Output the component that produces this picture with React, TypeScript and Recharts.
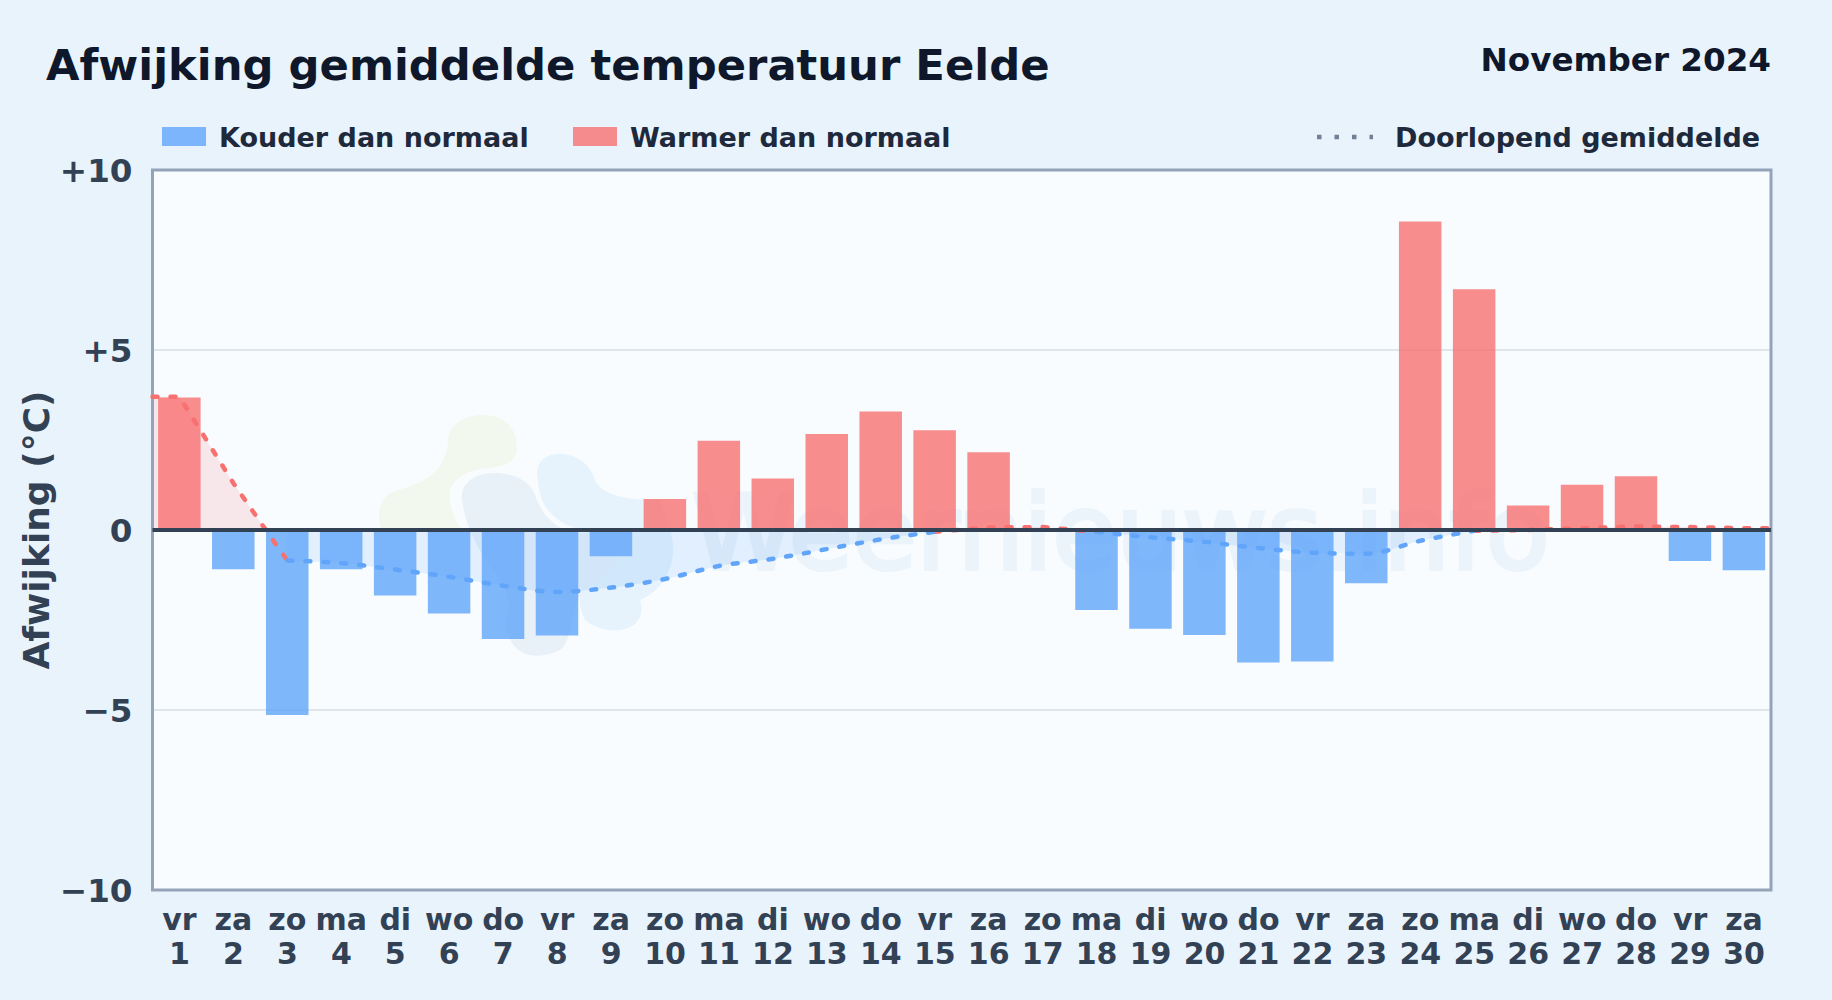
import {
  Area,
  Bar,
  CartesianGrid,
  ComposedChart,
  Line,
  Rectangle,
  ReferenceArea,
  ReferenceLine,
  XAxis,
  YAxis,
} from "recharts";

const FONT = "'DejaVu Sans', sans-serif";
const BLUE = "#60a5fa";
const RED = "#f87171";
const BAR_WIDTH = 42.5;

const days = Array.from({ length: 30 }, (_, i) => i + 1);
const weekdays = [
  "vr", "za", "zo", "ma", "di", "wo", "do", "vr", "za", "zo",
  "ma", "di", "wo", "do", "vr", "za", "zo", "ma", "di", "wo",
  "do", "vr", "za", "zo", "ma", "di", "wo", "do", "vr", "za",
];
const deviation = [
  3.68, -1.09, -5.14, -1.09, -1.82, -2.32, -3.03, -2.93, -0.73, 0.86,
  2.48, 1.43, 2.67, 3.29, 2.77, 2.16, 0, -2.22, -2.74, -2.92,
  -3.68, -3.65, -1.48, 8.57, 6.69, 0.68, 1.26, 1.49, -0.86, -1.12,
];
// running mean, split by colour of the segment that starts at that day
const warmMean = [
  3.7, 1.3, -0.85, null, null, null, null, null, null, null,
  null, null, null, null, -0.05, 0.07, 0.08, -0.05, null, null,
  null, null, null, null, -0.02, 0, 0.05, 0.1, 0.08, 0.05,
];
const coldMean = [
  null, null, -0.85, -0.92, -1.1, -1.3, -1.55, -1.72, -1.6, -1.36,
  -1.0, -0.8, -0.53, -0.26, -0.05, null, null, -0.05, -0.2, -0.33,
  -0.5, -0.63, -0.66, -0.3, -0.02, null, null, null, null, null,
];
const yTicks = [-10, -5, 0, 5, 10];

const rows = [
  { day: 0.5, warmMean: 3.7, warmFill: 3.7 },
  ...days.flatMap((day, i) => {
    const warm = warmMean[i];
    const row = {
      day,
      deviation: deviation[i],
      warmMean: warm,
      coldMean: coldMean[i],
      warmFill: warm !== null && warm >= 0 ? warm : null,
      coldFill: coldMean[i],
    };
    // line crosses zero between day 2 and 3
    if (day === 2) return [row, { day: 2.6, warmMean: 0, warmFill: 0 }];
    return [row];
  }),
  { day: 30.5, warmMean: 0.05, warmFill: 0.05 },
];

const formatY = (v: number) => (v > 0 ? `+${v}` : v < 0 ? `\u2212${Math.abs(v)}` : "0");

const DayTick = ({ x, y, payload }: any) => (
  <text x={x} textAnchor="middle" fontFamily={FONT} fontWeight="bold" fontSize={30} fill="#334155">
    <tspan x={x} y={y + 32}>{weekdays[payload.value - 1]}</tspan>
    <tspan x={x} y={y + 65.5}>{payload.value}</tspan>
  </text>
);

// the number axis squeezes bars to the closest rows, so the width is set here
const DayBar = (props: any) => (
  <Rectangle
    {...props}
    x={props.x + props.width / 2 - BAR_WIDTH / 2}
    width={BAR_WIDTH}
    fill={props.payload.deviation >= 0 ? RED : BLUE}
    fillOpacity={0.8}
  />
);

const Watermark = () => (
  <g>
    <path
      d="M448 440 C450 410 505 405 515 435 C522 460 510 465 490 468 C465 470 450 480 450 495 C450 510 455 520 462 530 L381 530 C376 510 380 495 398 490 C425 483 447 470 448 440 Z"
      fill="#f3f8ef"
    />
    <path
      d="M538 480 C530 445 585 445 595 480 C602 495 625 500 660 500 L670 530 C680 560 665 590 640 600 C650 630 610 640 585 620 C570 590 590 570 610 540 C590 530 540 530 538 480 Z"
      fill="#e6f3fd"
    />
    <path
      d="M462 500 C458 465 525 465 535 495 C545 525 570 540 600 530 C630 535 625 570 590 585 C570 595 575 640 560 650 C530 665 500 650 508 610 C515 580 470 560 462 500 Z"
      fill="#e8f0f8"
    />
    <text
      x={692}
      y={569}
      fontFamily={FONT}
      fontSize={104}
      fill="#ebf3fb"
      stroke="#ebf3fb"
      strokeWidth={4}
    >
      Weernieuws.info
    </text>
  </g>
);

const textStyle = (left: number, top: number, size: number, color: string): React.CSSProperties => ({
  position: "absolute",
  left,
  top,
  fontFamily: FONT,
  fontWeight: "bold",
  fontSize: size,
  color,
  lineHeight: 1,
  whiteSpace: "nowrap",
});

const Swatch = ({ left, color }: { left: number; color: string }) => (
  <div style={{ position: "absolute", left, top: 127, width: 44, height: 19, background: color, opacity: 0.8 }} />
);

export default function App() {
  return (
    <div
      style={{
        position: "absolute",
        left: 0,
        top: 0,
        width: 1832,
        height: 1000,
        overflow: "hidden",
        background: "#e8f3fc",
      }}
    >
      <div style={textStyle(46, 44, 43.3, "#0f172a")}>Afwijking gemiddelde temperatuur Eelde</div>
      <div style={{ ...textStyle(0, 44, 32.6, "#0f172a"), left: "auto", right: 61 }}>November 2024</div>

      <Swatch left={162} color={BLUE} />
      <div style={textStyle(219, 124, 27, "#1e293b")}>Kouder dan normaal</div>
      <Swatch left={573} color={RED} />
      <div style={textStyle(630, 124, 27, "#1e293b")}>Warmer dan normaal</div>
      <svg style={{ position: "absolute", left: 1315, top: 130 }} width={60} height={14}>
        <line x1={2} x2={58} y1={7} y2={7} stroke="#64748b" strokeWidth={4.5} strokeDasharray="4.5 13" opacity={0.9} />
      </svg>
      <div style={textStyle(1395, 124, 27, "#1e293b")}>Doorlopend gemiddelde</div>

      <div style={{ position: "absolute", left: 0, top: 0 }}>
        <ComposedChart
          width={1832}
          height={1000}
          data={rows}
          margin={{ top: 170, right: 61, bottom: 0, left: 0 }}
        >
          <CartesianGrid
            vertical={false}
            fill="#f8fcff"
            stroke="#e0e6ec"
            strokeWidth={2}
            horizontalValues={[-5, 5]}
          />
          <Watermark />
          <XAxis
            type="number"
            dataKey="day"
            domain={[0.5, 30.5]}
            ticks={days}
            interval={0}
            height={110}
            axisLine={false}
            tickLine={false}
            tick={<DayTick />}
          />
          <YAxis
            type="number"
            domain={[-10, 10]}
            ticks={yTicks}
            interval={0}
            width={152.5}
            axisLine={false}
            tickLine={false}
            tickFormatter={formatY}
            tickMargin={14}
            tick={{ fontFamily: FONT, fontWeight: "bold", fontSize: 32.6, fill: "#334155" }}
            label={{
              value: "Afwijking (\u00b0C)",
              angle: -90,
              position: "insideLeft",
              offset: 36,
              style: { fontFamily: FONT, fontWeight: "bold", fontSize: 36, fill: "#334155", textAnchor: "middle" },
            }}
          />
          <Area
            dataKey="warmFill"
            type="linear"
            fill={RED}
            fillOpacity={0.15}
            stroke="none"
            isAnimationActive={false}
            dot={false}
            activeDot={false}
          />
          <Area
            dataKey="coldFill"
            type="monotone"
            fill={BLUE}
            fillOpacity={0.15}
            stroke="none"
            isAnimationActive={false}
            dot={false}
            activeDot={false}
          />
          <Bar dataKey="deviation" shape={DayBar} isAnimationActive={false} />
          <Line
            dataKey="warmMean"
            type="linear"
            stroke={RED}
            strokeWidth={4.5}
            strokeLinecap="round"
            strokeDasharray="5 13"
            dot={false}
            activeDot={false}
            isAnimationActive={false}
          />
          <Line
            dataKey="coldMean"
            type="monotone"
            stroke={BLUE}
            strokeWidth={4.5}
            strokeLinecap="round"
            strokeDasharray="5 13"
            dot={false}
            activeDot={false}
            isAnimationActive={false}
          />
          <ReferenceLine y={0} stroke="#334155" strokeWidth={4} />
          <ReferenceArea
            x1={0.5}
            x2={30.5}
            y1={-10}
            y2={10}
            fill="none"
            stroke="#94a3b8"
            strokeWidth={3}
            ifOverflow="visible"
          />
        </ComposedChart>
      </div>
    </div>
  );
}
